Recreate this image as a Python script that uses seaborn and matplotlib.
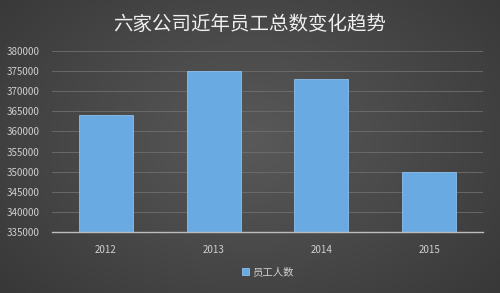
import numpy as np
import pandas as pd
import matplotlib
matplotlib.use("Agg")
import matplotlib.pyplot as plt
import seaborn as sns

years = ["2012", "2013", "2014", "2015"]
employees = [364000, 375000, 373000, 350000]
series_name = "员工人数"
title = "六家公司近年员工总数变化趋势"
yticks = list(range(335000, 380001, 5000))

sns.set_theme(style="dark")
plt.rcParams['font.family'] = ['Noto Sans CJK SC', 'DejaVu Sans']

df = pd.DataFrame({"year": years, "count": employees, "series": series_name})

fig = plt.figure(figsize=(5, 2.93), dpi=100)

# radial gradient background
bg = fig.add_axes([0, 0, 1, 1], zorder=-10)
yy, xx = np.mgrid[0:293, 0:500]
r = np.sqrt(((xx - 250) / 330) ** 2 + ((yy - 140) / 230) ** 2)
g = np.clip(0.35 - 0.13 * r, 0.21, 0.35)
img = np.dstack([g, g, g])
bg.imshow(img, aspect="auto", extent=[0, 1, 0, 1], origin="upper")
bg.set_axis_off()

ax = fig.add_axes([0.104, 0.208, 0.862, 0.618])
ax.patch.set_alpha(0)
sns.barplot(data=df, x="year", y="count", hue="series", ax=ax,
            palette=["#6aaae2"], saturation=1, width=0.5, edgecolor="#8cc0ee",
            linewidth=0.6, zorder=3, legend=True)
ax.set_ylim(335000, 380000)
ax.set_yticks(yticks)
ax.set_yticklabels([str(v) for v in yticks], color="#d0d0d0", fontsize=7)
ax.tick_params(axis="x", colors="#d0d0d0", labelsize=7, length=0, pad=9)
ax.tick_params(axis="y", length=0, pad=9)
ax.set_xlabel("")
ax.set_ylabel("")
ax.yaxis.grid(True, color="#6e6e6e", linewidth=0.6, zorder=0)
ax.xaxis.grid(False)
for s in ["top", "right", "left"]:
    ax.spines[s].set_visible(False)
ax.spines["bottom"].set_color("#bdbdbd")
ax.spines["bottom"].set_linewidth(1.0)
ax.spines["bottom"].set_zorder(4)

leg = ax.legend(loc="center", bbox_to_anchor=(0.5, -0.22), frameon=False,
                fontsize=7.5, handlelength=0.7, handleheight=0.7, handletextpad=0.3)
for t in leg.get_texts():
    t.set_color("#d0d0d0")

fig.text(0.5, 0.915, title, ha="center", va="center", color="#f0f0f0", fontsize=14)

fig.savefig("out.png", dpi=100)
